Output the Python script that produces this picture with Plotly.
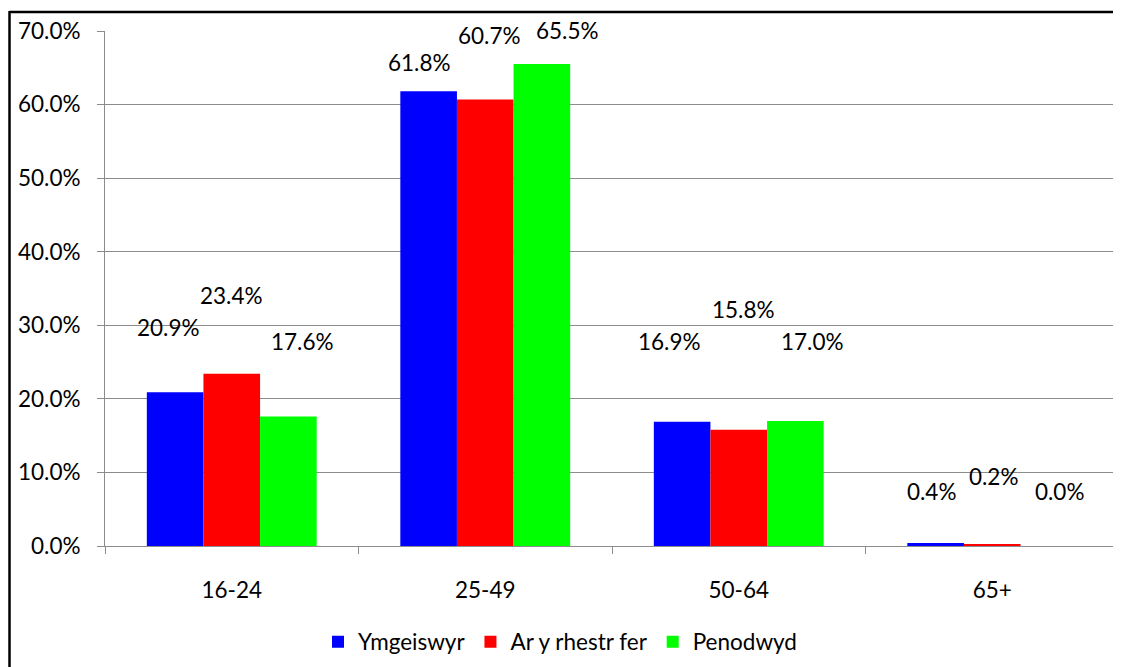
import plotly.graph_objects as go

categories = ["16-24", "25-49", "50-64", "65+"]
series_names = ["Ymgeiswyr", "Ar y rhestr fer", "Penodwyd"]
ymgeiswyr = [20.9, 61.8, 16.9, 0.4]
rhestr_fer = [23.4, 60.7, 15.8, 0.2]
penodwyd = [17.6, 65.5, 17.0, 0.0]
y_ticks = [0, 10, 20, 30, 40, 50, 60, 70]
y_tick_labels = ["0.0%", "10.0%", "20.0%", "30.0%", "40.0%", "50.0%", "60.0%", "70.0%"]

# style settings
colors = ["#0000FF", "#FF0000", "#00FF00"]
FONT = "Lato"
FS = 22.5
label_dx = [[-7, -9, -13, -4], [0, 4, 5, 1], [14, 26, 17, 11]]
label_dy = [[65, 29, 80, 52], [78, 64, 120, 68], [75, 34, 79, 55]]

OFF = 8  # page body margin
W, H = 1121 - OFF, 667 - OFF
ML, MT = 105 - OFF, 31 - OFF
plot_w = 1014
plot_h = 515
MR = W - ML - plot_w
MB = H - MT - plot_h
bargap = 0.33
bar_px = plot_w / len(categories) * (1 - bargap) / 3

fig = go.Figure()
all_vals = [ymgeiswyr, rhestr_fer, penodwyd]
for i, (name, vals) in enumerate(zip(series_names, all_vals)):
    fig.add_trace(go.Bar(x=categories, y=vals, name=name,
                         marker=dict(color=colors[i], line=dict(width=0))))

annotations = []
for i, vals in enumerate(all_vals):
    for j, v in enumerate(vals):
        annotations.append(dict(
            x=categories[j], y=v, xref="x", yref="y",
            text=f"{v:.1f}%", showarrow=False,
            xshift=(i - 1) * bar_px + label_dx[i][j],
            yshift=label_dy[i][j], yanchor="middle", xanchor="center",
            font=dict(family=FONT, size=FS, color="black")))

def px_to_paper_x(px):
    return (px - OFF - ML) / plot_w

def px_to_paper_y(py):
    return (MT + plot_h - (py - OFF)) / plot_h

shapes = [
    dict(type="line", xref="paper", yref="paper",
         x0=px_to_paper_x(9.5), x1=px_to_paper_x(1200),
         y0=px_to_paper_y(12), y1=px_to_paper_y(12),
         line=dict(color="black", width=2.5)),
    dict(type="line", xref="paper", yref="paper",
         x0=px_to_paper_x(9.5), x1=px_to_paper_x(9.5),
         y0=px_to_paper_y(11), y1=px_to_paper_y(720),
         line=dict(color="black", width=2.5)),
]

fig.update_layout(
    width=W, height=H,
    margin=dict(l=ML, r=MR, t=MT, b=MB, autoexpand=False),
    paper_bgcolor="white", plot_bgcolor="white",
    barmode="group", bargap=bargap, bargroupgap=0,
    font=dict(family=FONT, size=FS, color="black"),
    annotations=annotations, shapes=shapes,
    legend=dict(orientation="h", x=px_to_paper_x(560), xanchor="center",
                y=px_to_paper_y(642), yanchor="middle",
                font=dict(family=FONT, size=FS, color="black"),
                itemwidth=30, tracegroupgap=0),
    showlegend=True,
)
fig.update_xaxes(
    showgrid=False, showline=True, linecolor="#8c8c8c", linewidth=1,
    ticks="outside", tickson="boundaries", ticklen=7, tickcolor="#8c8c8c",
    ticklabelstandoff=24, tickfont=dict(family=FONT, size=FS, color="black"))
fig.update_yaxes(
    range=[0, 70], tickvals=y_ticks, ticktext=y_tick_labels,
    showgrid=True, gridcolor="#8c8c8c", gridwidth=1,
    showline=True, linecolor="#8c8c8c", linewidth=1,
    ticks="outside", ticklen=7, tickcolor="#8c8c8c",
    ticklabelstandoff=12, zeroline=False,
    tickfont=dict(family=FONT, size=FS, color="black"))

fig.write_html("out.html")
